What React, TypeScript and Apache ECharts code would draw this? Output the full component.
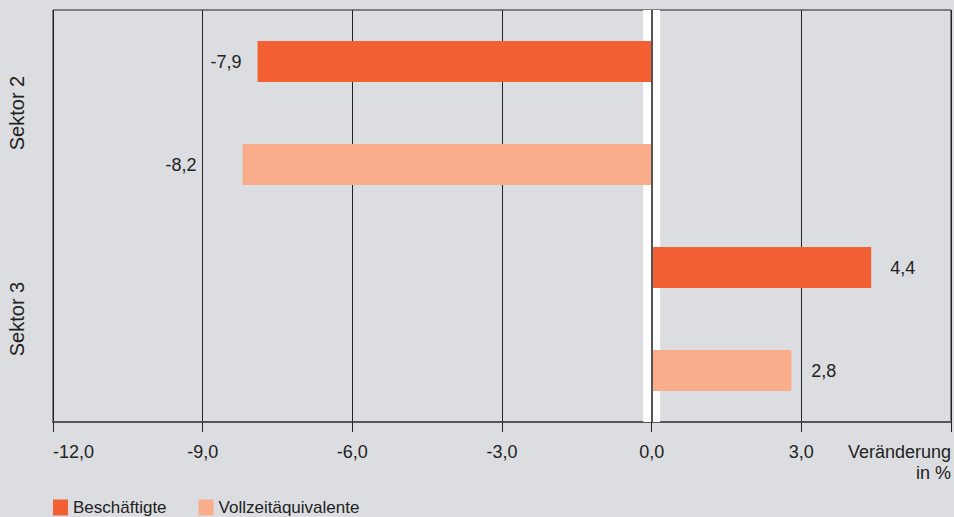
import React, { useEffect, useRef } from "react";
import * as echarts from "echarts";

const sectors = ["Sektor 2", "Sektor 3"];
const seriesNames = ["Beschäftigte", "Vollzeitäquivalente"];
const beschaeftigte = [-7.9, 4.4];
const vollzeit = [-8.2, 2.8];
const xTicks = { min: -12, max: 6, interval: 3 };
const unitLabel = "Veränderung\nin %";

// layout only: gap between bar end and its value label (px), per slot
const labelGaps = [16, 46, 19, 20];

const FONT = "'Liberation Sans', Arial, sans-serif";
const colors = ["#f26033", "#f9ad8a"];

const fmt = (v: number) => v.toFixed(1).replace(".", ",");

export default function App() {
  const ref = useRef<HTMLDivElement>(null);
  useEffect(() => {
    if (!ref.current) return;
    const chart = echarts.init(ref.current, undefined, { renderer: "svg" });
    const slots: string[] = [];
    sectors.forEach((s) => seriesNames.forEach((n) => slots.push(s + "|" + n)));
    const allSeries = [beschaeftigte, vollzeit];
    const makeData = (si: number) =>
      slots.map((_, k) => {
        const sector = Math.floor(k / 2);
        const which = k % 2;
        if (which !== si) return "-";
        const v = allSeries[si][sector];
        return {
          value: v,
          label: {
            position: v < 0 ? "left" : "right",
            distance: labelGaps[k],
          },
        };
      });

    chart.setOption({
      animation: false,
      backgroundColor: "#dcdde0",
      grid: {
        left: 53,
        right: 3,
        top: 10,
        bottom: 95,
        show: true,
        borderColor: "#222",
        borderWidth: 1,
        backgroundColor: "transparent",
      },
      legend: {
        data: seriesNames,
        left: 53,
        top: 499,
        itemWidth: 15,
        itemHeight: 16,
        itemGap: 32,
        icon: "rect",
        padding: 0,
        textStyle: { fontFamily: FONT, fontSize: 17, color: "#222" },
      },
      xAxis: {
        type: "value",
        min: xTicks.min,
        max: xTicks.max,
        interval: xTicks.interval,
        axisLine: { show: true, lineStyle: { color: "#555", width: 2 } },
        axisTick: { show: true, length: 10, lineStyle: { color: "#222", width: 1 } },
        splitLine: { show: true, lineStyle: { color: "#222", width: 1 } },
        axisLabel: {
          fontFamily: FONT,
          fontSize: 18,
          color: "#222",
          margin: 19,
          lineHeight: 21,
          alignMinLabel: "left",
          alignMaxLabel: "right",
          showMinLabel: true,
          showMaxLabel: true,
          formatter: (v: number) => (v === xTicks.max ? unitLabel : fmt(v)),
        },
      },
      yAxis: [
        {
          type: "category",
          data: slots,
          inverse: true,
          show: false,
        },
        {
          type: "category",
          data: sectors,
          inverse: true,
          position: "left",
          axisLine: { show: false },
          axisTick: { show: false },
          splitLine: { show: false },
          axisLabel: {
            rotate: 90,
            fontFamily: FONT,
            fontSize: 20,
            color: "#222",
            margin: 26,
          },
        },
      ],
      series: [
        {
          name: "band",
          type: "line",
          data: [],
          z: 1,
          silent: true,
          markArea: {
            silent: true,
            itemStyle: { color: "#ffffff" },
            data: [[{ xAxis: -0.17 }, { xAxis: 0.17 }]],
          },
        },
        ...seriesNames.map((name, si) => ({
          name,
          type: "bar",
          yAxisIndex: 0,
          z: 2,
          barWidth: 41,
          barGap: "-100%",
          itemStyle: { color: colors[si] },
          label: {
            show: true,
            fontFamily: FONT,
            fontSize: 18,
            color: "#222",
            formatter: (p: any) => fmt(p.value),
          },
          data: makeData(si),
        })),
        {
          name: "zero",
          type: "line",
          data: [],
          z: 3,
          silent: true,
          markLine: {
            silent: true,
            symbol: "none",
            label: { show: false },
            lineStyle: { color: "#555", width: 2, type: "solid" },
            data: [{ xAxis: 0 }],
          },
        },
      ],
    });
    return () => chart.dispose();
  }, []);
  return <div ref={ref} style={{ width: 954, height: 517, position: "absolute", left: 0, top: 0 }} />;
}
